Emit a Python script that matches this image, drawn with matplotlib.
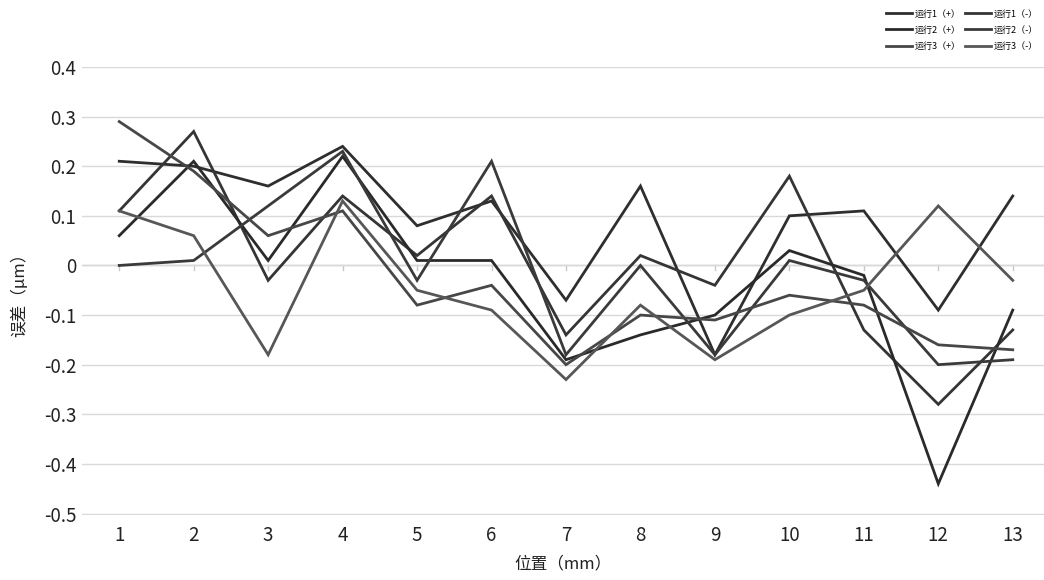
import matplotlib.pyplot as plt

plt.rcParams['font.family'] = ['Noto Sans CJK SC', 'DejaVu Sans']

# 位置 (mm)
pos = [1, 2, 3, 4, 5, 6, 7, 8, 9, 10, 11, 12, 13]

# 误差 (μm), values
run1_plus = [0.21, 0.20, 0.16, 0.24, 0.08, 0.13, -0.07, 0.16, -0.18, 0.10, 0.11, -0.09, 0.14]
run1_minus = [0.11, 0.27, -0.03, 0.14, 0.02, 0.14, -0.14, 0.02, -0.04, 0.18, -0.13, -0.28, -0.13]
run2_plus = [0.06, 0.21, 0.01, 0.22, 0.01, 0.01, -0.19, -0.14, -0.10, 0.03, -0.02, -0.44, -0.09]
run2_minus = [0.00, 0.01, 0.12, 0.23, -0.03, 0.21, -0.18, 0.00, -0.18, 0.01, -0.03, -0.20, -0.19]
run3_plus = [0.29, 0.19, 0.06, 0.11, -0.08, -0.04, -0.20, -0.10, -0.11, -0.06, -0.08, -0.16, -0.17]
run3_minus = [0.11, 0.06, -0.18, 0.13, -0.05, -0.09, -0.23, -0.08, -0.19, -0.10, -0.05, 0.12, -0.03]

labels = ['运行1（+）', '运行1（-）', '运行2（+）', '运行2（-）', '运行3（+）', '运行3（-）']
series = [run1_plus, run1_minus, run2_plus, run2_minus, run3_plus, run3_minus]
colors = ['#2e2e2e', '#353535', '#2a2a2a', '#3a3a3a', '#474747', '#575757']

fig = plt.figure(figsize=(10.44, 5.8), dpi=100)
ax = fig.add_axes([82/1044, 1 - 515/580, (1044 - 82)/1044, (515 - 67)/580])

lines = []
for ys, lab, c in zip(series, labels, colors):
    l, = ax.plot(pos, ys, color=c, linewidth=2.0, label=lab, solid_joinstyle='miter')
    lines.append(l)

ax.set_xlim(0.5, 13.5 - 6/74.6)
ax.set_ylim(-0.503, 0.4)
ax.set_yticks([0.4, 0.3, 0.2, 0.1, 0, -0.1, -0.2, -0.3, -0.4, -0.5])
ax.set_yticklabels(['0.4', '0.3', '0.2', '0.1', '0', '-0.1', '-0.2', '-0.3', '-0.4', '-0.5'])
ax.set_xticks(pos)
ax.grid(axis='y', color='#d9d9d9', linewidth=1)
ax.set_axisbelow(True)
for s in ax.spines.values():
    s.set_visible(False)
ax.axhline(0, color='#c8c8c8', linewidth=1, zorder=0)
for p in pos:
    ax.plot([p, p], [0, -0.01], color='#c8c8c8', linewidth=1, zorder=0)
ax.tick_params(axis='both', length=0, labelsize=13.5, colors='#222222')
ax.tick_params(axis='x', pad=7)
ax.tick_params(axis='y', pad=4)

ax.set_xlabel('位置（mm）', fontsize=12, color='#222222', labelpad=7)
ax.set_ylabel('误差（μm）', fontsize=12, color='#222222', labelpad=11)

# legend fills column by column, reorder so rows read 1(+) 1(-) / 2(+) 2(-) / 3(+) 3(-)
order = [0, 2, 4, 1, 3, 5]
fig.legend([lines[i] for i in order], [labels[i] for i in order],
           loc='upper right', bbox_to_anchor=(0.998, 0.99), ncol=2, fontsize=6.5,
           frameon=False, handlelength=2.9, columnspacing=0.5, handletextpad=0.3,
           labelspacing=0.8, borderaxespad=0.2, borderpad=0.2)

fig.savefig('out.png', dpi=100)
